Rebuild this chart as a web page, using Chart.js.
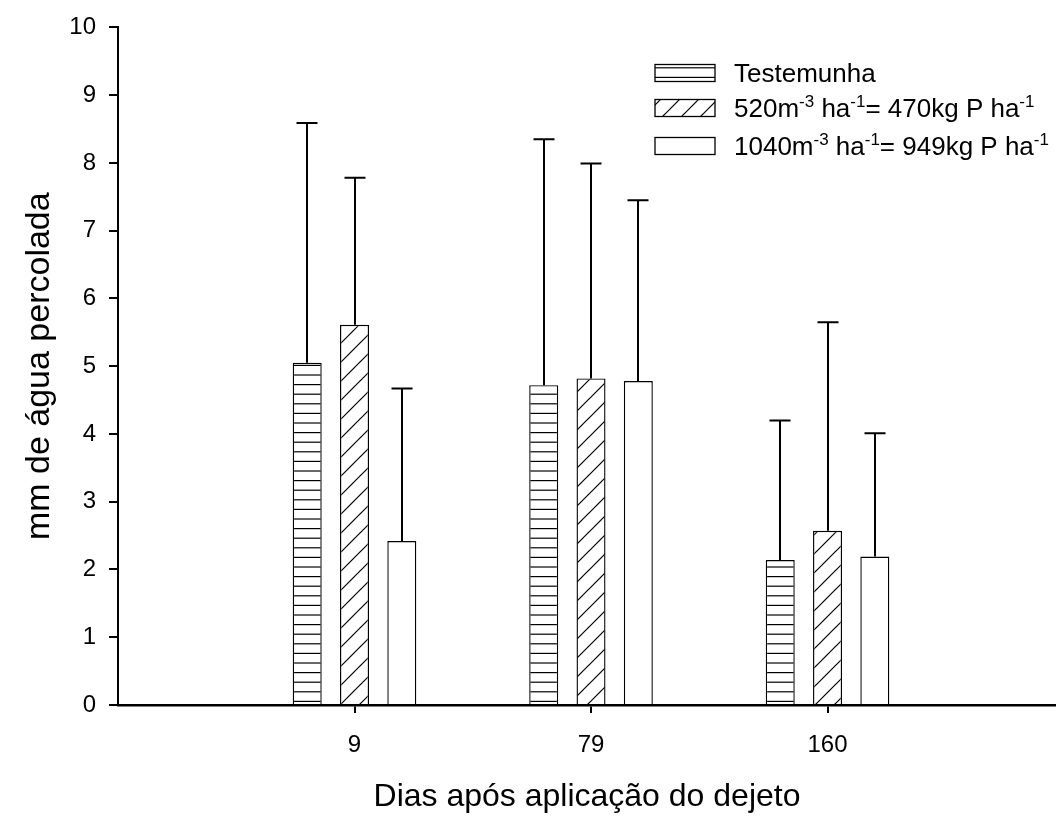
<!DOCTYPE html>
<html><head><meta charset="utf-8">
<script src="https://cdn.jsdelivr.net/npm/chart.js@4.4.0/dist/chart.umd.min.js"></script>
<style>html,body{margin:0;padding:0;background:#fff;overflow:hidden}#wrap{width:1056px;height:816px;position:relative}</style>
</head><body><div id="wrap"><canvas id="c" width="1056" height="816"></canvas></div>
<script>
// ---- data ----
const categories = ['9', '79', '160'];
const categoryPositions = [1, 2, 3];
const testemunha = [5.05, 4.72, 2.14];
const testemunhaSD = [3.54, 3.63, 2.06];
const dose520 = [5.61, 4.82, 2.57];
const dose520SD = [2.17, 3.17, 3.08];
const dose1040 = [2.42, 4.78, 2.19];
const dose1040SD = [2.25, 2.67, 1.82];
const yTicks = [0, 1, 2, 3, 4, 5, 6, 7, 8, 9, 10];
const xTitle = 'Dias após aplicação do dejeto';
const yTitle = 'mm de água percolada';
// legend text segments: [text, isSuperscript]
const legend1 = [['Testemunha', 0]];
const legend2 = [['520m', 0], ['-3', 1], [' ha', 0], ['-1', 1], ['= 470kg P ha', 0], ['-1', 1]];
const legend3 = [['1040m', 0], ['-3', 1], [' ha', 0], ['-1', 1], ['= 949kg P ha', 0], ['-1', 1]];

const FONT = '"Liberation Sans", Arial, sans-serif';

function stripePattern() {
  const c = document.createElement('canvas');
  c.width = 8; c.height = 48;
  const g = c.getContext('2d');
  g.fillStyle = '#fff'; g.fillRect(0, 0, 8, 48);
  g.strokeStyle = '#000'; g.lineWidth = 1.2;
  for (let k = 0; k < 5; k++) {
    const y = k * 9.6 + 0.6;
    g.beginPath(); g.moveTo(0, y); g.lineTo(8, y); g.stroke();
  }
  return g.createPattern(c, 'repeat');
}
function diagPattern() {
  const s = 19;
  const c = document.createElement('canvas');
  c.width = s; c.height = s;
  const g = c.getContext('2d');
  g.fillStyle = '#fff'; g.fillRect(0, 0, s, s);
  g.strokeStyle = '#000'; g.lineWidth = 1.2;
  for (let k = -1; k <= 1; k++) {
    g.beginPath(); g.moveTo(k * s - 1, s + 1); g.lineTo(k * s + s + 1, -1); g.stroke();
  }
  return g.createPattern(c, 'repeat');
}
const fills = [stripePattern(), diagPattern(), '#ffffff'];
const sds = [testemunhaSD, dose520SD, dose1040SD];
const legendRows = [legend1, legend2, legend3];

function pts(vals) { return categoryPositions.map((x, i) => ({ x: x, y: vals[i] })); }

const errorBars = {
  id: 'errorBars',
  afterDatasetsDraw(chart) {
    const ctx = chart.ctx, ys = chart.scales.y;
    ctx.save();
    ctx.strokeStyle = '#000'; ctx.lineWidth = 2;
    chart.data.datasets.forEach((ds, di) => {
      const meta = chart.getDatasetMeta(di);
      meta.data.forEach((el, i) => {
        const v = ds.data[i].y, sd = sds[di][i];
        const yTop = ys.getPixelForValue(v + sd);
        const x = Math.round(el.x);
        ctx.beginPath();
        ctx.moveTo(x, el.y); ctx.lineTo(x, yTop);
        ctx.moveTo(x - 10.5, yTop); ctx.lineTo(x + 10.5, yTop);
        ctx.stroke();
      });
    });
    ctx.restore();
  }
};

const customLegend = {
  id: 'customLegend',
  afterDraw(chart) {
    const ctx = chart.ctx;
    const rowY = [73, 108, 146];
    const boxX = 655, boxW = 60, boxH = 17, textX = 734;
    ctx.save();
    legendRows.forEach((segs, r) => {
      const cy = rowY[r];
      ctx.fillStyle = fills[r];
      ctx.fillRect(boxX, cy - boxH / 2, boxW, boxH);
      ctx.strokeStyle = '#000'; ctx.lineWidth = 1.3;
      ctx.strokeRect(boxX, cy - boxH / 2, boxW, boxH);
      let x = textX;
      ctx.fillStyle = '#000';
      ctx.textBaseline = 'alphabetic';
      segs.forEach(([t, sup]) => {
        ctx.font = (sup ? '17px ' : '26px ') + FONT;
        ctx.fillText(t, x, sup ? cy - 1 : cy + 9);
        x += ctx.measureText(t).width;
      });
    });
    ctx.restore();
  }
};

const names = ['Testemunha', '520', '1040'];
const seriesVals = [testemunha, dose520, dose1040];

new Chart(document.getElementById('c'), {
  type: 'bar',
  data: {
    datasets: seriesVals.map((vals, i) => ({
      label: names[i],
      data: pts(vals),
      backgroundColor: fills[i],
      borderColor: '#000',
      borderWidth: 1.4,
      borderSkipped: 'bottom',
      categoryPercentage: 0.6,
      barPercentage: 0.613
    }))
  },
  options: {
    responsive: false,
    animation: false,
    events: [],
    layout: { padding: { top: 24, right: 0, left: 0, bottom: 0 } },
    plugins: { legend: { display: false }, tooltip: { enabled: false } },
    scales: {
      x: {
        type: 'linear',
        offset: false,
        min: 0,
        max: 3.966,
        afterBuildTicks(scale) { scale.ticks = categoryPositions.map(v => ({ value: v })); },
        afterFit(scale) { scale.height = 111; },
        ticks: {
          callback(v) { const i = categoryPositions.indexOf(v); return i >= 0 ? categories[i] : ''; },
          font: { family: FONT, size: 24 },
          color: '#000',
          padding: 18,
          maxRotation: 0,
          autoSkip: false
        },
        grid: { display: true, offset: false, drawOnChartArea: false, drawTicks: true, tickLength: 8, color: '#000', lineWidth: 2 },
        border: { display: true, color: '#000', width: 2.5 },
        title: { display: true, text: xTitle, font: { family: FONT, size: 32 }, color: '#000', padding: { top: 0, bottom: 0 } }
      },
      y: {
        min: 0,
        max: 10,
        afterBuildTicks(scale) { scale.ticks = yTicks.map(v => ({ value: v })); },
        afterFit(scale) { scale.width = 118; },
        ticks: { font: { family: FONT, size: 24 }, color: '#000', padding: 13 },
        grid: { display: true, drawOnChartArea: false, drawTicks: true, tickLength: 9, color: '#000', lineWidth: 2 },
        border: { display: true, color: '#000', width: 2 },
        title: { display: true, text: yTitle, font: { family: FONT, size: 34 }, color: '#000', padding: { top: 19, bottom: 0 } }
      }
    }
  },
  plugins: [errorBars, customLegend]
});
</script>
</body></html>
